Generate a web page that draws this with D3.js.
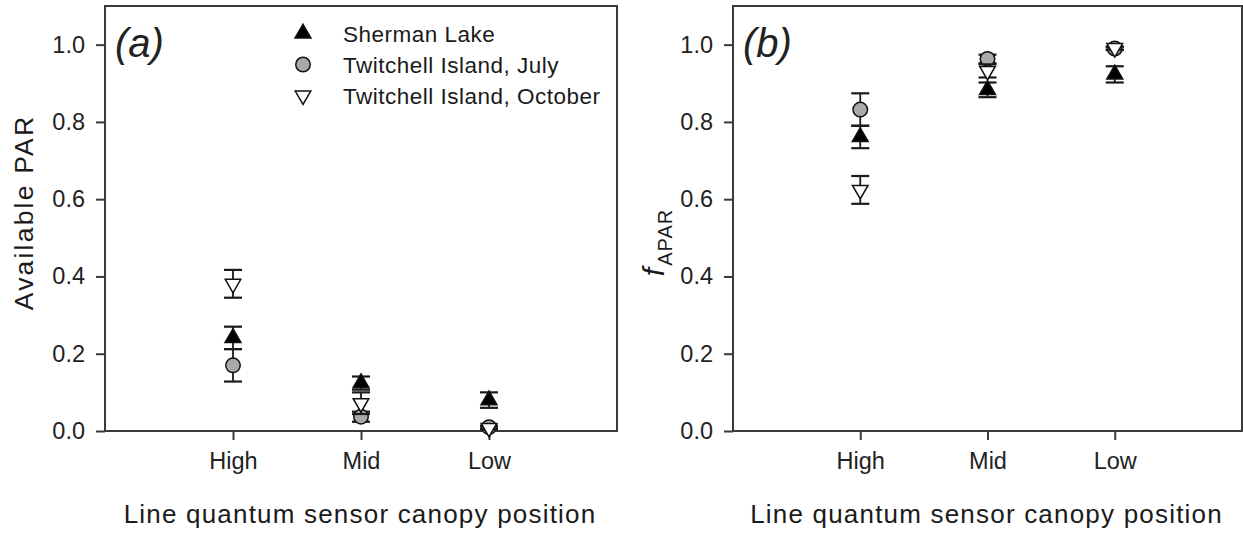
<!DOCTYPE html>
<html>
<head>
<meta charset="utf-8">
<script src="https://cdn.jsdelivr.net/npm/d3@7/dist/d3.min.js"></script>
<style>
  html, body { margin: 0; padding: 0; background: #fff; }
  svg { display: block; font-family: "Liberation Sans", Arial, sans-serif; }
</style>
</head>
<body>
<svg id="chart" width="1243" height="536"></svg>
<script>
// Canopy positions on the x axis
const categories = ["High", "Mid", "Low"];
const seriesNames = ["Sherman Lake", "Twitchell Island, July", "Twitchell Island, October"];
const yTicks = [0.0, 0.2, 0.4, 0.6, 0.8, 1.0];

// (a) Available PAR: means and standard errors per canopy position
const parSherman    = [0.241, 0.124, 0.080];
const parShermanSE  = [0.029, 0.017, 0.020];
const parJuly       = [0.170, 0.037, 0.010];
const parJulySE     = [0.042, 0.013, 0.004];
const parOctober    = [0.381, 0.072, 0.008];
const parOctoberSE  = [0.036, 0.028, 0.004];

// (b) fAPAR: means and standard errors per canopy position
const fSherman      = [0.761, 0.883, 0.923];
const fShermanSE    = [0.029, 0.019, 0.021];
const fJuly         = [0.832, 0.963, 0.990];
const fJulySE       = [0.042, 0.011, 0.004];
const fOctober      = [0.624, 0.932, 0.991];
const fOctoberSE    = [0.036, 0.017, 0.004];

const svg = d3.select("#chart");
const plotTop = 6, plotBottom = 431;
const ink = "#1a1a1a", frameInk = "#3a3a3a";

const markers = [
  { type: d3.symbolTriangle, size: 110, fill: "#000", rotate: 0 },
  { type: d3.symbolCircle,   size: 165, fill: "#a9a9a9", rotate: 0 },
  { type: d3.symbolTriangle, size: 105, fill: "#fff", rotate: 180 }
];

const panels = [
  { left: 105, right: 617, tag: "(a)",
    series: [[parSherman, parShermanSE], [parJuly, parJulySE], [parOctober, parOctoberSE]],
    legend: true, yTitle: "par" },
  { left: 733, right: 1242, tag: "(b)",
    series: [[fSherman, fShermanSE], [fJuly, fJulySE], [fOctober, fOctoberSE]],
    legend: false, yTitle: "fapar" }
];

panels.forEach(p => {
  const x = d3.scaleLinear().domain([0, 4]).range([p.left, p.right]);
  const y = d3.scaleLinear().domain([0, 1.1]).range([plotBottom, plotTop]);
  const g = svg.append("g");

  // y axis
  const yAxis = g.append("g")
    .attr("transform", `translate(${p.left},0)`)
    .call(d3.axisLeft(y).tickValues(yTicks).tickFormat(d3.format(".1f")).tickSize(9).tickPadding(11));
  // x axis
  const xAxis = g.append("g")
    .attr("transform", `translate(0,${plotBottom})`)
    .call(d3.axisBottom(x).tickValues([1, 2, 3]).tickFormat(d => categories[d - 1]).tickSize(9).tickPadding(12));
  [yAxis, xAxis].forEach(a => {
    a.select(".domain").remove();
    a.selectAll(".tick line").attr("stroke", frameInk).attr("stroke-width", 2);
    a.selectAll(".tick text").attr("fill", "#222").style("font-size", "23.5px");
  });

  // plot frame
  g.append("rect")
    .attr("x", p.left).attr("y", plotTop)
    .attr("width", p.right - p.left).attr("height", plotBottom - plotTop)
    .attr("fill", "none").attr("stroke", frameInk).attr("stroke-width", 2);

  // panel tag
  g.append("text")
    .attr("x", p.left + 10).attr("y", 57)
    .attr("font-style", "italic").attr("font-size", 40).attr("fill", "#222")
    .text(p.tag);

  // error bars then markers, series in order
  p.series.forEach(([means, ses], si) => {
    const sg = g.append("g");
    means.forEach((m, ci) => {
      const cx = x(ci + 1);
      const lo = y(m - ses[ci]), hi = y(m + ses[ci]);
      sg.append("line").attr("x1", cx).attr("x2", cx).attr("y1", lo).attr("y2", hi)
        .attr("stroke", ink).attr("stroke-width", 1.8);
      [lo, hi].forEach(yy => sg.append("line")
        .attr("x1", cx - 9).attr("x2", cx + 9).attr("y1", yy).attr("y2", yy)
        .attr("stroke", ink).attr("stroke-width", 2.2));
    });
    const mk = markers[si];
    sg.selectAll("path.mk").data(means).join("path")
      .attr("class", "mk")
      .attr("d", d3.symbol().type(mk.type).size(mk.size))
      .attr("transform", (d, ci) => `translate(${x(ci + 1)},${y(d)}) rotate(${mk.rotate})`)
      .attr("fill", mk.fill).attr("stroke", "#111").attr("stroke-width", 1.5);
  });

  // x title
  g.append("text")
    .attr("x", (p.left + p.right) / 2 - 1).attr("y", 523)
    .attr("text-anchor", "middle").attr("font-size", 26).attr("letter-spacing", 1.2)
    .attr("fill", "#1a1a1a")
    .text("Line quantum sensor canopy position");

  // y title
  if (p.yTitle === "par") {
    g.append("text")
      .attr("transform", `translate(33,${(plotTop + plotBottom) / 2 - 6}) rotate(-90)`)
      .attr("text-anchor", "middle").attr("font-size", 26.5).attr("letter-spacing", 2.2)
      .attr("fill", "#1a1a1a")
      .text("Available PAR");
  } else {
    const t = g.append("text")
      .attr("transform", `translate(664,${(plotTop + plotBottom) / 2 + 24}) rotate(-90)`)
      .attr("text-anchor", "middle").attr("fill", "#1a1a1a");
    t.append("tspan").attr("font-size", 30).attr("font-style", "italic").text("f");
    t.append("tspan").attr("font-size", 20).attr("dy", 8).attr("dx", 2).attr("letter-spacing", 1).text("APAR");
  }

  // legend
  if (p.legend) {
    const lg = g.append("g");
    const rows = [33.5, 64.5, 95.5];
    seriesNames.forEach((name, i) => {
      const mk = markers[i];
      lg.append("path")
        .attr("d", d3.symbol().type(mk.type).size(mk.size))
        .attr("transform", `translate(303,${rows[i]}) rotate(${mk.rotate})`)
        .attr("fill", mk.fill).attr("stroke", "#111").attr("stroke-width", 1.5);
      lg.append("text")
        .attr("x", 343).attr("y", rows[i]).attr("dy", "0.36em")
        .attr("font-size", 22.5).attr("letter-spacing", 0.5).attr("fill", "#1a1a1a")
        .text(name);
    });
  }
});
</script>
</body>
</html>
